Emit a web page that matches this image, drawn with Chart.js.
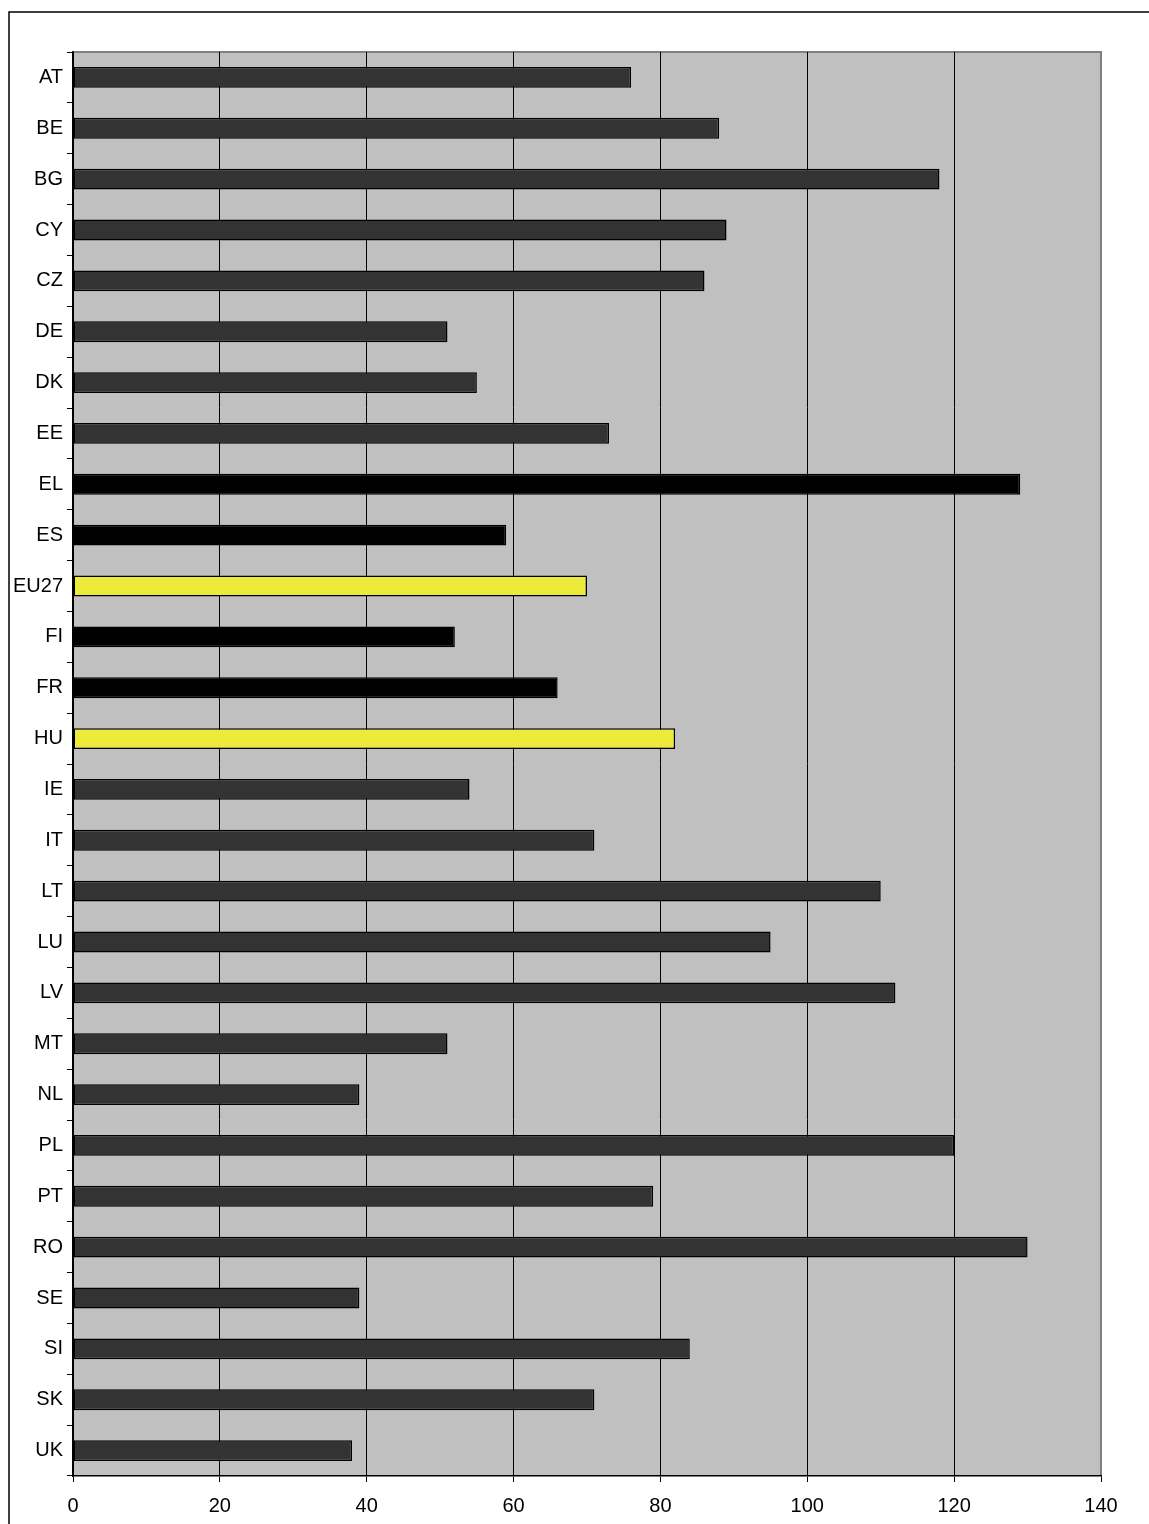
<!DOCTYPE html>
<html>
<head>
<meta charset="utf-8">
<script src="https://cdn.jsdelivr.net/npm/chart.js@4.4.1/dist/chart.umd.min.js"></script>
<style>
  html, body { margin: 0; padding: 0; background: #fff; }
  canvas { display: block; }
</style>
</head>
<body>
<canvas id="myBarChart" width="1149" height="1524"></canvas>
<script>
// Datos del grafico
const paises = ["AT", "BE", "BG", "CY", "CZ", "DE", "DK", "EE", "EL", "ES", "EU27", "FI", "FR", "HU",
  "IE", "IT", "LT", "LU", "LV", "MT", "NL", "PL", "PT", "RO", "SE", "SI", "SK", "UK"];
const valores = [76, 88, 118, 89, 86, 51, 55, 73, 129, 59, 70, 52, 66, 82,
  54, 71, 110, 95, 112, 51, 39, 120, 79, 130, 39, 84, 71, 38];
const destacadosNegro = ["EL", "ES", "FI", "FR"];
const destacadosAmarillo = ["EU27", "HU"];
const ticksX = [0, 20, 40, 60, 80, 100, 120, 140];

// Colores de cada barra
const coloresBarras = paises.map((p) => {
  if (destacadosAmarillo.includes(p)) return "#eeea3c";
  if (destacadosNegro.includes(p)) return "#000000";
  return "#333333";
});

// Plugin para el marco exterior y el fondo gris
const fondoPlugin = {
  id: "fondo",
  beforeDraw(chart) {
    const ctx = chart.ctx;
    const a = chart.chartArea;
    ctx.save();
    ctx.fillStyle = "#ffffff";
    ctx.fillRect(0, 0, chart.width, chart.height);
    ctx.strokeStyle = "#000000";
    ctx.lineWidth = 1.5;
    ctx.strokeRect(9, 12, chart.width + 50, chart.height + 50);
    ctx.fillStyle = "#c0c0c0";
    ctx.fillRect(a.left, a.top, a.right - a.left, a.bottom - a.top);
    ctx.strokeStyle = "#808080";
    ctx.lineWidth = 2;
    ctx.beginPath();
    ctx.moveTo(a.left, a.top);
    ctx.lineTo(a.right, a.top);
    ctx.lineTo(a.right, a.bottom);
    ctx.stroke();
    ctx.restore();
  },
};

const ctx = document.getElementById("myBarChart").getContext("2d");
new Chart(ctx, {
  type: "bar",
  data: {
    labels: paises,
    datasets: [
      {
        data: valores,
        backgroundColor: coloresBarras,
        borderColor: "#000000",
        borderWidth: 1.5,
        borderSkipped: false,
        categoryPercentage: 1,
        barPercentage: 0.41,
      },
    ],
  },
  options: {
    indexAxis: "y",
    responsive: false,
    animation: false,
    devicePixelRatio: 1,
    layout: { padding: { left: 0, top: 52, right: 48, bottom: 0 } },
    scales: {
      x: {
        min: 0,
        max: 140,
        afterBuildTicks: (scale) => {
          scale.ticks = ticksX.map((v) => ({ value: v }));
        },
        afterFit: (scale) => {
          scale.height = 48;
        },
        grid: {
          color: (c) => (c.tick && c.tick.value === 140 ? "#808080" : "#000000"),
          lineWidth: 1,
          drawTicks: true,
          tickLength: 6,
          tickColor: "#000000",
        },
        border: { display: true, color: "#000000", width: 1.5 },
        ticks: {
          color: "#000000",
          padding: 12,
          font: { family: "'Liberation Sans', Arial, sans-serif", size: 20 },
        },
      },
      y: {
        afterFit: (scale) => {
          scale.width = 73;
        },
        grid: {
          drawOnChartArea: false,
          drawTicks: true,
          tickLength: 6,
          color: "#000000",
          offset: true,
        },
        border: { display: true, color: "#000000", width: 1.5 },
        ticks: {
          color: "#000000",
          padding: 4,
          font: { family: "'Liberation Sans', Arial, sans-serif", size: 20 },
        },
      },
    },
    plugins: {
      legend: { display: false },
      tooltip: { enabled: false },
    },
  },
  plugins: [fondoPlugin],
});
</script>
</body>
</html>
